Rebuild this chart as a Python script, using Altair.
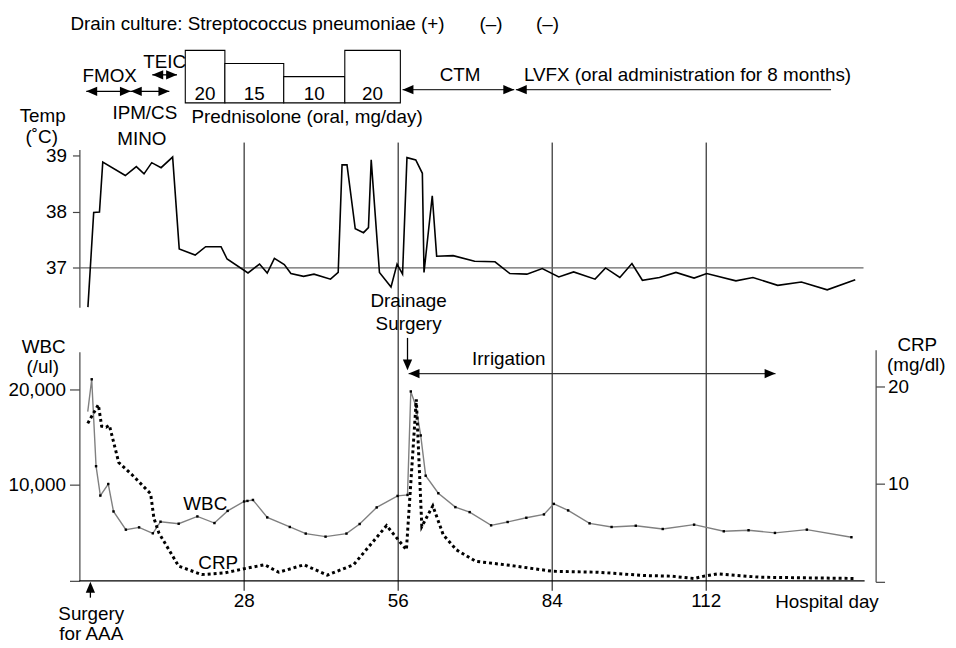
import altair as alt
import pandas as pd

# ---------------- data ----------------
# body temperature (deg C) by hospital day
temp_day = [-0.4, 0.65, 1.7, 2.3, 6.4, 8.4, 9.8, 11.2, 12.9, 15.0, 16.2, 19.1, 21.0, 23.8, 24.9,
            28.7, 30.8, 32.2, 33.5, 35.3, 36.5, 38.8, 40.7, 43.7, 45.1, 45.8, 46.7, 48.2, 49.7,
            50.6, 51.1, 52.6, 54.7, 55.8, 56.8, 57.6, 59.2, 60.4, 60.7, 62.2, 63.0, 66.0, 69.9,
            73.6, 76.3, 79.4, 82.2, 85.2, 87.9, 91.8, 93.7, 96.3, 98.5, 100.4, 103.5, 106.5,
            109.8, 112.1, 117.4, 120.5, 125.0, 129.3, 134.0, 139.1]
temp_c = [36.3, 37.99, 38.0, 38.89, 38.65, 38.81, 38.68, 38.88, 38.79, 38.98, 37.34, 37.23, 37.38,
          37.38, 37.16, 36.91, 37.07, 36.91, 37.17, 37.06, 36.9, 36.85, 36.89, 36.8, 36.92, 38.84,
          38.84, 37.7, 37.63, 37.72, 38.93, 36.92, 36.66, 37.07, 36.89, 38.97, 38.93, 38.69, 36.92,
          38.29, 37.21, 37.22, 37.12, 37.11, 36.9, 36.89, 36.99, 36.84, 36.93, 36.8, 37.0, 36.83,
          37.08, 36.78, 36.83, 36.92, 36.82, 36.9, 36.77, 36.83, 36.69, 36.75, 36.61, 36.79]

# white blood cell count (/ul)
wbc_day = [-0.43, 0.29, 1.08, 1.86, 3.3, 4.25, 6.5, 8.9, 11.4, 12.8, 16.1, 19.5, 22.6, 25.0, 28.0,
           28.6, 29.6, 32.2, 36.3, 39.2, 42.8, 46.6, 49.0, 52.1, 55.9, 57.7, 58.3, 59.2, 60.1, 61.0,
           63.3, 66.4, 69.0, 72.9, 75.9, 79.3, 82.5, 84.3, 86.9, 90.8, 94.8, 99.2, 104.1, 109.8,
           115.2, 119.7, 124.5, 130.3, 138.4]
wbc_count = [17650, 21030, 11960, 8900, 10100, 7240, 5340, 5580, 4960, 6170, 5960, 6720, 6030, 7300,
             8280, 8340, 8440, 6620, 5620, 4930, 4610, 4930, 5930, 7660, 8860, 8960, 19760, 18270,
             15170, 10970, 9140, 7690, 7170, 5790, 6140, 6580, 6930, 8030, 7350, 6000, 5620, 5750,
             5410, 5860, 5170, 5280, 5000, 5340, 4550]

# C-reactive protein (mg/dl)
crp_day = [-0.43, 0.47, 1.5, 2.1, 2.9, 3.5, 5.2, 7.7, 11.0, 11.6, 12.5, 16.1, 20.3, 24.5, 28.1, 31.7,
           34.3, 38.9, 43.1, 47.9, 53.9, 57.5, 59.3, 60.3, 62.3, 64.2, 66.6, 70.1, 76.8, 84.0, 92.4,
           100.8, 105.6, 109.8, 111.6, 114.0, 121.8, 139.3]
crp_mgdl = [16.2, 17.1, 18.1, 15.9, 15.8, 16.0, 12.2, 10.9, 9.0, 6.5, 5.0, 1.6, 0.74, 0.91, 1.35, 1.75,
            0.98, 1.75, 0.68, 1.75, 5.75, 3.27, 18.65, 5.65, 7.77, 4.8, 3.27, 2.1, 1.65, 1.08, 0.98,
            0.64, 0.58, 0.34, 0.58, 0.81, 0.47, 0.34]

# prednisolone (oral, mg/day)
pred_start = [17.3, 24.5, 35.2, 46.3]
pred_end = [24.5, 35.2, 46.3, 56.4]
pred_dose = [20, 15, 10, 20]

# treatment periods (hospital days)
fmox = [-0.7, 7.4]
ipm_mino = [7.4, 14.4]
teic = [11.3, 15.8]
ctm = [56.8, 77.1]
lvfx = [77.4, 134.7]
irrigation = [57.9, 124.6]
drainage_day = 57.7
aaa_day = 0.05

day_ticks = [28, 56, 84, 112]
temp_ticks = [37, 38, 39]
wbc_ticks = [0, 10000, 20000]
crp_ticks = [0, 10, 20]
temp_ref = 37

# ---------------- chart ----------------
FONT = "Liberation Sans"
FS = 19
W, H = 803, 442

X_SCALE = alt.Scale(domain=[-1.95, 142.8], nice=False, zero=False)
TEMP_SCALE = alt.Scale(domain=[36.30, 39.115], range=[166, 7], nice=False, zero=False)
WBC_SCALE = alt.Scale(domain=[0, 23900], range=[442, 211], nice=False, zero=False)
CRP_SCALE = alt.Scale(domain=[0, 23.72], range=[443, 209], nice=False, zero=False)
PRED_SCALE = alt.Scale(domain=[0, 20], range=[-40, -93], nice=False, zero=False)

ONE = pd.DataFrame({"k": [0]})

LEFT = "M0,0L2,-0.85L2,0.85Z"
RIGHT = "M0,0L-2,-0.85L-2,0.85Z"
DOWN = "M0,0L-0.85,-2L0.85,-2Z"
UP = "M0,0L-0.85,2L0.85,2Z"


def xq(field):
    return alt.X(f"{field}:Q", scale=X_SCALE, axis=None)


def text(s, x, y, align="center"):
    return alt.Chart(ONE).mark_text(
        text=s, align=align, baseline="alphabetic", font=FONT, fontSize=FS, color="black"
    ).encode(x=alt.value(x), y=alt.value(y))


def head(d, y, shape, size=121):
    return alt.Chart(pd.DataFrame({"d": [d]})).mark_point(
        shape=shape, filled=True, size=size, color="black", opacity=1, strokeWidth=0
    ).encode(x=xq("d"), y=alt.value(y))


def harrow(period, y, left=True, right=True, color="black"):
    seg = alt.Chart(pd.DataFrame({"a": [period[0]], "b": [period[1]]})).mark_rule(
        color=color, strokeWidth=1.3
    ).encode(x=xq("a"), x2="b:Q", y=alt.value(y))
    out = [seg]
    if left:
        out.append(head(period[0], y, LEFT))
    if right:
        out.append(head(period[1], y, RIGHT))
    return out


layers = []

# vertical week lines, extended downward as axis ticks
ticks_df = pd.DataFrame({"day": day_ticks})
layers.append(
    alt.Chart(ticks_df).mark_rule(color="black", strokeWidth=1).encode(
        x=xq("day"), y=alt.value(0), y2=alt.value(H + 10)
    )
)
# x tick labels
layers.append(
    alt.Chart(ticks_df).mark_text(
        font=FONT, fontSize=FS, baseline="alphabetic", color="black"
    ).encode(x=xq("day"), y=alt.value(468), text="day:N")
)

# x baseline
layers.append(
    alt.Chart(ONE).mark_rule(color="black", strokeWidth=1.2).encode(
        x=alt.XDatum(-1.95, scale=X_SCALE, axis=None), x2=alt.X2Datum(140.8), y=alt.value(H)
    )
)

# temperature reference line at 37
layers.append(
    alt.Chart(ONE).mark_rule(color="#666", strokeWidth=1.3).encode(
        x=alt.XDatum(-1.95, scale=X_SCALE, axis=None), x2=alt.X2Datum(140.6),
        y=alt.YDatum(temp_ref, scale=TEMP_SCALE, axis=None),
    )
)

# temperature line
temp_df = pd.DataFrame({"day": temp_day, "temp": temp_c})
layers.append(
    alt.Chart(temp_df).mark_line(color="black", strokeWidth=1.6).encode(
        x=xq("day"),
        y=alt.Y("temp:Q", scale=TEMP_SCALE,
                axis=alt.Axis(orient="left", values=temp_ticks, format="d", tickSize=7,
                              labelPadding=6, title=None, grid=False)),
    )
)

# WBC
wbc_df = pd.DataFrame({"day": wbc_day, "wbc": wbc_count})
layers.append(
    alt.Chart(wbc_df).mark_line(color="#808080", strokeWidth=1.4).encode(
        x=xq("day"),
        y=alt.Y("wbc:Q", scale=WBC_SCALE,
                axis=alt.Axis(orient="left", values=wbc_ticks,
                              labelExpr="datum.value == 0 ? '' : format(datum.value, ',')",
                              tickSize=10, labelPadding=4, title=None, grid=False)),
    )
)
layers.append(
    alt.Chart(wbc_df.iloc[1:]).mark_point(filled=True, size=6, color="black", opacity=1, shape="square").encode(
        x=xq("day"), y=alt.Y("wbc:Q", scale=WBC_SCALE, axis=None)
    )
)

# CRP
crp_df = pd.DataFrame({"day": crp_day, "crp": crp_mgdl})
layers.append(
    alt.Chart(crp_df).mark_line(color="black", strokeWidth=3, strokeDash=[3, 3], strokeCap="butt").encode(
        x=xq("day"),
        y=alt.Y("crp:Q", scale=CRP_SCALE,
                axis=alt.Axis(orient="right", values=crp_ticks,
                              labelExpr="datum.value == 0 ? '' : datum.label",
                              tickSize=9, labelPadding=3, title=None, grid=False)),
    )
)

# prednisolone boxes
pred_df = pd.DataFrame({"s": pred_start, "e": pred_end, "dose": pred_dose})
pred_base = alt.Chart(pred_df)
layers.append(
    pred_base.mark_rect(fill="white", stroke="black", strokeWidth=1.1).encode(
        x=xq("s"), x2="e:Q",
        y=alt.Y("dose:Q", scale=PRED_SCALE, axis=None), y2=alt.Y2Datum(0),
    )
)
layers.append(
    pred_base.transform_calculate(mid="(datum.s + datum.e) / 2").mark_text(
        font=FONT, fontSize=FS, baseline="alphabetic", color="black"
    ).encode(x=xq("mid"), y=alt.value(-43), text="dose:N")
)

# treatment arrows
layers += harrow(fmox, -51.7)
layers += harrow(ipm_mino, -51.7)
layers += harrow(teic, -68.3)
layers += harrow(ctm, -53.3, color="#333")
layers += harrow(lvfx, -53.3, right=False, color="#333")
layers += harrow(irrigation, 233, color="#333")

# drainage surgery arrow
layers.append(
    alt.Chart(pd.DataFrame({"d": [drainage_day]})).mark_rule(color="black", strokeWidth=1.3).encode(
        x=xq("d"), y=alt.value(197), y2=alt.value(222)
    )
)
layers.append(head(drainage_day, 229.7, DOWN))

# surgery for AAA arrow
layers.append(
    alt.Chart(pd.DataFrame({"d": [aaa_day]})).mark_rule(color="black", strokeWidth=1.3).encode(
        x=xq("d"), y=alt.value(450), y2=alt.value(459)
    )
)
layers.append(head(aaa_day, 443, UP))

# text annotations
layers += [
    text("Drain culture: Streptococcus pneumoniae (+)", -9, -114, "left"),
    text("(–)", 415, -114),
    text("(–)", 472, -114),
    text("FMOX", 30.5, -61),
    text("TEIC", 86, -75),
    text("IPM/CS", 66, -24),
    text("MINO", 63, 2),
    text("Prednisolone (oral, mg/day)", 113, -20, "left"),
    text("CTM", 384, -62),
    text("LVFX (oral administration for 8 months)", 448.3, -62, "left"),
    text("Temp", -37, -21),
    text("(˚C)", -38, 0),
    text("Drainage", 332, 166),
    text("Surgery", 332, 189),
    text("Irrigation", 433, 224),
    text("WBC", -36, 212),
    text("(/ul)", -37, 232),
    text("CRP", 845, 210),
    text("(mg/dl)", 844, 230),
    text("WBC", 127, 371),
    text("CRP", 140, 430),
    text("Surgery", 12, 481),
    text("for AAA", 12, 502),
    text("Hospital day", 701.7, 469, "left"),
]

chart = (
    alt.layer(*layers)
    .resolve_scale(y="independent")
    .properties(
        width=W, height=H,
        autosize=alt.AutoSizeParams(type="none"),
        padding={"left": 72, "top": 133, "right": 73, "bottom": 62},
    )
    .configure_view(stroke="transparent")
    .configure_axis(
        labelFont=FONT, labelFontSize=FS, labelColor="black",
        domainColor="#444", tickColor="#444", domainWidth=1.2, tickWidth=1.2, grid=False,
    )
)

chart.save("out.html", embed_options={"renderer": "svg", "actions": False})
